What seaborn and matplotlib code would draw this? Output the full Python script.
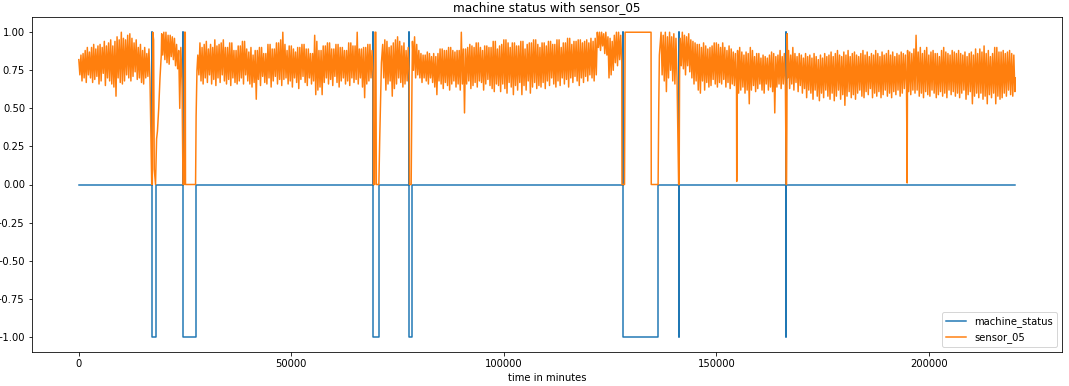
import numpy as np
import pandas as pd
import seaborn as sns
import matplotlib
matplotlib.use('Agg')
import matplotlib.pyplot as plt

# machine_status: 0 normal, 1 broken, -1 recovering
broken_at = [17155, 24510, 69318, 77790, 128040, 141131, 166440]
recovered_at = [18050, 27540, 70530, 78300, 136380, 141200, 166500]
last_minute = 220319

# sensor_05 (x100) during normal running, read per 500-minute block:
# top of the band (hi) and bottom of the band (lo)
hi_a = [82, 85, 86, 88, 90, 87, 90, 92, 89, 91, 92, 90, 94, 91, 93, 95, 91, 94,
        97, 95, 100, 96, 95, 98, 99, 96, 93, 95, 90, 92, 88, 90, 86, 89]
lo_a = [72, 68, 70, 67, 72, 70, 67, 69, 71, 66, 68, 73, 65, 70, 68, 66, 64, 58,
        70, 67, 66, 68, 72, 70, 68, 71, 74, 69, 70, 67, 66, 70, 71, 68]
hi_b = [99, 100, 100, 98, 98, 97, 96, 92, 88, 90]
lo_b = [85, 82, 80, 79, 84, 82, 78, 76, 50, 70]
hi_c = [85, 93, 90, 92, 94, 89, 92, 90, 95, 91,
        92, 93, 95, 90, 90, 93, 93, 88, 88, 91,
        91, 94, 94, 89, 87, 90, 85, 88, 88, 90,
        90, 86, 86, 92, 92, 89, 89, 93, 93, 95,
        100, 92, 88, 91, 91, 89, 87, 90, 90, 92,
        92, 89, 89, 86, 86, 98, 94, 88, 88, 91,
        91, 93, 93, 89, 89, 92, 92, 90, 90, 88,
        88, 93, 93, 91, 91, 100, 89, 89, 90, 90,
        92, 92, 88]
lo_c = [72, 68, 66, 70, 67, 72, 66, 69, 65, 70,
        67, 72, 68, 66, 69, 65, 70, 67, 66, 68,
        70, 66, 72, 68, 66, 64, 67, 56, 69, 65,
        71, 67, 66, 70, 64, 68, 71, 66, 69, 65,
        69, 70, 66, 68, 64, 70, 67, 63, 69, 71,
        67, 65, 70, 66, 68, 59, 62, 64, 59, 67,
        70, 66, 69, 65, 71, 67, 64, 68, 70, 66,
        68, 65, 70, 67, 69, 66, 70, 64, 57, 66,
        68, 70, 72]
hi_d = [92, 95, 94, 90, 91, 93, 95, 97, 94, 91, 93, 88, 90]
lo_d = [70, 62, 66, 68, 58, 63, 66, 70, 67, 64, 66, 68, 72]
hi_e = [94, 97, 92, 88, 86, 85, 85, 87, 86, 84,
        86, 84, 86, 89, 89, 88, 88, 90, 90, 88,
        87, 88, 88, 100, 89, 89, 90, 92, 91, 90,
        93, 93, 90, 88, 91, 91, 90, 90, 94, 94,
        89, 91, 92, 95, 95, 93, 90, 93, 93, 91,
        91, 94, 94, 89, 92, 93, 93, 95, 95, 92,
        90, 93, 93, 91, 94, 94, 92, 92, 95, 95,
        90, 93, 93, 96, 96, 92, 94, 94, 95, 95,
        93, 94, 95, 93, 96, 94, 96, 100, 100, 100,
        99, 100, 97, 96, 94, 98, 100, 100, 98]
lo_e = [75, 70, 72, 70, 67, 70, 68, 66, 70, 67,
        64, 59, 68, 66, 63, 67, 65, 62, 66, 68,
        64, 66, 62, 66, 47, 66, 68, 63, 65, 67,
        64, 68, 67, 62, 66, 69, 65, 63, 61, 66,
        65, 61, 66, 63, 60, 67, 64, 59, 65, 62,
        67, 59, 65, 62, 68, 60, 64, 67, 63, 65,
        64, 67, 63, 68, 65, 70, 66, 64, 68, 65,
        70, 66, 69, 64, 70, 67, 71, 68, 65, 70,
        67, 71, 68, 72, 70, 68, 72, 90, 88, 91,
        86, 85, 70, 72, 75, 80, 78, 82, 80]
hi_f = [100, 98, 100, 97, 100, 97, 99, 96]
lo_f = [72, 68, 61, 70, 75, 68, 66, 70]
hi_g = [96, 100, 98, 97, 99, 95, 94, 93, 92, 92,
        90, 93, 91, 89, 90, 91, 93, 93, 92, 90,
        93, 90, 88, 91, 89, 87, 86, 88, 90, 87,
        85, 87, 86, 90, 88, 84, 86, 86, 83, 85,
        84, 83, 85, 87, 86, 84, 85, 88, 84, 86]
lo_g = [78, 76, 72, 78, 74, 70, 66, 68, 62, 60,
        68, 62, 67, 64, 65, 69, 66, 64, 67, 66,
        69, 64, 67, 63, 66, 65, 63, 60, 62, 64,
        60, 62, 53, 62, 65, 61, 63, 66, 62, 60,
        66, 62, 64, 61, 47, 64, 66, 63, 66, 65]
hi_h = [88, 85, 90, 86, 84, 86, 85, 83, 86, 84,
        85, 83, 86, 84, 82, 85, 83, 86, 84, 85,
        87, 84, 86, 88, 85, 84, 87, 85, 88, 84,
        86, 87, 85, 84, 86, 88, 85, 87, 84, 86,
        85, 88, 86, 84, 87, 85, 86, 88, 85, 87,
        84, 86, 85, 87, 86, 85, 88, 87, 86, 89,
        98, 87, 90, 86, 88, 90, 85, 87, 88, 86,
        86, 84, 88, 90, 87, 86, 85, 88, 87, 86,
        88, 86, 85, 87, 84, 86, 87, 85, 89, 86,
        89, 87, 91, 86, 88, 84, 86, 90, 90, 87,
        87, 88, 86, 87, 88, 86, 85]
lo_h = [63, 66, 62, 67, 61, 65, 60, 63, 57, 62,
        60, 56, 62, 58, 55, 60, 57, 62, 58, 56,
        60, 55, 58, 62, 56, 59, 52, 58, 61, 57,
        59, 56, 60, 62, 58, 57, 61, 59, 63, 57,
        60, 58, 61, 57, 59, 62, 58, 60, 57, 61,
        59, 62, 58, 60, 63, 64, 61, 59, 62, 60,
        62, 58, 60, 57, 61, 59, 58, 62, 60, 57,
        59, 61, 58, 60, 57, 62, 59, 61, 58, 60,
        57, 60, 62, 56, 59, 61, 53, 58, 60, 57,
        60, 56, 58, 53, 59, 57, 60, 53, 58, 56,
        57, 60, 58, 62, 59, 58, 61]
run_starts = [0, 19500, 28000, 71500, 78500, 137000, 141500, 167000]

# sensor_05 around the failures and the two short drops
event_t = [17155, 17300, 17400, 17600, 17750, 18050, 18300, 18500, 18800, 19100, 19400,
           24300, 24510, 24800, 24900, 25050, 25100, 27470, 27600, 27800,
           69318, 69600, 69700, 69900, 70000, 70600, 70800, 71000, 71200,
           77790, 78200, 78300, 78400,
           127800, 128400, 128540, 134640, 134690, 136300, 136450, 136600,
           141131, 141250, 141350,
           154800,
           166440, 166520, 166600, 166680, 166800,
           194900, 220319]
event_v = [0.0, 0.0, 1.0, 0.95, 0.1, 0.0, 0.3, 0.35, 0.5, 0.7, 0.85,
           0.63, 0.0, 0.0, 1.0, 1.0, 0.0, 0.0, 0.45, 0.75,
           0.0, 0.0, 1.0, 1.0, 0.0, 0.0, 0.3, 0.55, 0.8,
           0.0, 0.0, 0.35, 0.7,
           0.0, 0.0, 1.0, 1.0, 0.0, 0.0, 0.5, 0.85,
           0.0, 0.0, 0.7,
           0.02,
           0.0, 0.0, 0.4, 0.99, 0.7,
           0.01, 0.70]

his = [hi_a, hi_b, hi_c, hi_d, hi_e, hi_f, hi_g, hi_h]
los = [lo_a, lo_b, lo_c, lo_d, lo_e, lo_f, lo_g, lo_h]
t_parts = [np.array(event_t)]
v_parts = [np.array(event_v)]
for start, hi, lo in zip(run_starts, his, los):
    t_parts.append(start + 500 * np.arange(len(hi)))
    v_parts.append(np.array(hi) / 100)
    t_parts.append(start + 250 + 500 * np.arange(len(lo)))
    v_parts.append(np.array(lo) / 100)
sensor = pd.DataFrame({'t': np.concatenate(t_parts), 'v': np.concatenate(v_parts)})
sensor = sensor.sort_values('t')

st_t, st_v = [0], [0]
for b, r in zip(broken_at, recovered_at):
    st_t += [b, b + 1, r]
    st_v += [1, -1, 0]
st_t.append(last_minute)
st_v.append(0)
status = pd.DataFrame({'t': st_t, 'v': st_v})

fig = plt.figure(figsize=(1069 / 72, 386 / 72), dpi=72)
ax = fig.add_axes([32 / 1069, 34 / 386, 1030 / 1069, 335 / 386])
sns.lineplot(data=status, x='t', y='v', ax=ax, color='#1f77b4',
             drawstyle='steps-post', estimator=None, label='machine_status')
sns.lineplot(data=sensor, x='t', y='v', ax=ax, color='#ff7f0e',
             estimator=None, label='sensor_05')
ax.set_yticks(np.arange(-1, 1.01, 0.25))
ax.set_ylim(-1.1, 1.1)
ax.set_xlim(-0.05 * last_minute, 1.05 * last_minute)
ax.set_title('machine status with sensor_05')
ax.set_xlabel('time in minutes')
ax.set_ylabel('')
ax.legend(loc='lower right')
fig.savefig('out.png', dpi=72)
